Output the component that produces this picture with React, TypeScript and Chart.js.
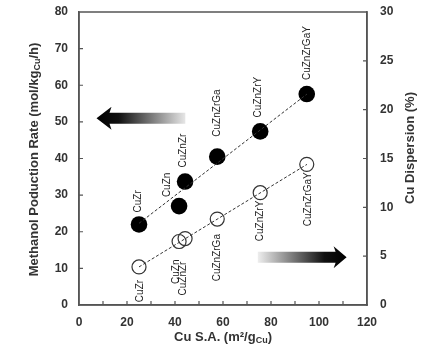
import React, { useEffect, useRef } from "react";
import { Chart, registerables } from "chart.js";

Chart.register(...registerables);

const catalysts = ["CuZr", "CuZn", "CuZnZr", "CuZnZrGa", "CuZnZrY", "CuZnZrGaY"];
const surfaceArea = [25, 41.7, 44.2, 57.6, 75.5, 94.9];
const methanolRate = [22, 27, 33.7, 40.5, 47.4, 57.6];
const dispersion = [3.9, 6.5, 6.8, 8.8, 11.5, 14.4];
const trendX = [25, 95];
const rateTrend = [22.3, 57.6];
const dispersionTrend = [3.9, 14.4];

// label placement (pixels): [dx, gap from point centre]
const filledLabelOffsets = [[-1, 12], [-12, 9], [-2, 14], [0, 20], [-2, 14], [0, 14]];
const openLabelOffsets = [[1, 13], [-2.5, 18], [-2, 23], [0, 15], [0, 8], [1, 8]];

const FONT = 'Arial, "Liberation Sans", sans-serif';
const TEXT = "#333";

const decorPlugin = {
  id: "decor",
  afterDatasetsDraw(chart: any) {
    const { ctx, chartArea: a, scales } = chart;
    const x = scales.x, y = scales.y, y1 = scales.y1;
    ctx.save();
    // frame
    ctx.strokeStyle = "#555";
    ctx.lineWidth = 1.5;
    ctx.strokeRect(a.left, a.top, a.right - a.left, a.bottom - a.top);
    // inside ticks
    ctx.lineWidth = 1.2;
    ctx.beginPath();
    for (let v = 10; v < 120; v += 10) {
      const px = x.getPixelForValue(v);
      ctx.moveTo(px, a.bottom);
      ctx.lineTo(px, a.bottom - 4);
    }
    for (let v = 10; v < 80; v += 10) {
      const py = y.getPixelForValue(v);
      ctx.moveTo(a.left, py);
      ctx.lineTo(a.left + 4, py);
    }
    for (let v = 5; v < 30; v += 5) {
      const py = y1.getPixelForValue(v);
      ctx.moveTo(a.right, py);
      ctx.lineTo(a.right - 4, py);
    }
    ctx.stroke();

    // point labels
    ctx.fillStyle = "#222";
    ctx.font = `10px ${FONT}`;
    ctx.textBaseline = "middle";
    catalysts.forEach((name, i) => {
      const px = x.getPixelForValue(surfaceArea[i]);
      const pyF = y.getPixelForValue(methanolRate[i]);
      const [dxF, gF] = filledLabelOffsets[i];
      ctx.save();
      ctx.translate(px + dxF, pyF - gF);
      ctx.rotate(-Math.PI / 2);
      ctx.textAlign = "left";
      ctx.fillText(name, 0, 0);
      ctx.restore();

      const pyO = y1.getPixelForValue(dispersion[i]);
      const [dxO, gO] = openLabelOffsets[i];
      ctx.save();
      ctx.translate(px + dxO, pyO + gO);
      ctx.rotate(-Math.PI / 2);
      ctx.textAlign = "right";
      ctx.fillText(name, 0, 0);
      ctx.restore();
    });

    // arrows
    const drawArrow = (x0: number, x1: number, yc: number, dir: number) => {
      const headLen = dir < 0 ? 15 : 13;
      const shaftH = 5.5;
      const headH = dir < 0 ? 11.5 : 11;
      const g = ctx.createLinearGradient(x0, 0, x1, 0);
      if (dir < 0) {
        g.addColorStop(0, "#000");
        g.addColorStop(0.25, "#111");
        g.addColorStop(1, "#e6e6e6");
      } else {
        g.addColorStop(0, "#eeeeee");
        g.addColorStop(0.75, "#111");
        g.addColorStop(1, "#000");
      }
      ctx.fillStyle = g;
      ctx.beginPath();
      if (dir < 0) {
        ctx.moveTo(x0, yc);
        ctx.lineTo(x0 + headLen, yc - headH);
        ctx.lineTo(x0 + headLen - 2, yc - shaftH);
        ctx.lineTo(x1, yc - shaftH);
        ctx.lineTo(x1, yc + shaftH);
        ctx.lineTo(x0 + headLen - 2, yc + shaftH);
        ctx.lineTo(x0 + headLen, yc + headH);
      } else {
        ctx.moveTo(x1, yc);
        ctx.lineTo(x1 - headLen, yc - headH);
        ctx.lineTo(x1 - headLen + 2, yc - shaftH);
        ctx.lineTo(x0, yc - shaftH);
        ctx.lineTo(x0, yc + shaftH);
        ctx.lineTo(x1 - headLen + 2, yc + shaftH);
        ctx.lineTo(x1 - headLen, yc + headH);
      }
      ctx.closePath();
      ctx.fill();
    };
    drawArrow(x.getPixelForValue(7.3), x.getPixelForValue(44.3), y.getPixelForValue(51), -1);
    drawArrow(x.getPixelForValue(74.5), x.getPixelForValue(111.5), y1.getPixelForValue(4.9), 1);

    // axis titles
    ctx.fillStyle = TEXT;
    ctx.textBaseline = "middle";
    const drawTitle = (parts: [string, boolean][], cx: number, cy: number, rot: number) => {
      const big = `bold 13px ${FONT}`;
      const small = `bold 9px ${FONT}`;
      let total = 0;
      parts.forEach(([t, sub]) => {
        ctx.font = sub ? small : big;
        total += ctx.measureText(t).width;
      });
      ctx.save();
      ctx.translate(cx, cy);
      ctx.rotate(rot);
      let pos = -total / 2;
      ctx.textAlign = "left";
      parts.forEach(([t, sub]) => {
        ctx.font = sub ? small : big;
        ctx.fillText(t, pos, sub ? 4 : 0);
        pos += ctx.measureText(t).width;
      });
      ctx.restore();
    };
    drawTitle([["Methanol Poduction Rate (mol/kg", false], ["Cu", true], ["/h)", false]], a.left - 45, 159.5, -Math.PI / 2);
    drawTitle([["Cu Dispersion (%)", false]], a.right + 43, 148, -Math.PI / 2);
    drawTitle([["Cu S.A. (m\u00B2/g", false], ["Cu", true], [")", false]], (a.left + a.right) / 2, 337, 0);
    ctx.restore();
  },
};

const fitVertical = (w: number) => (s: any) => {
  s.width = w;
  s.paddingTop = 0;
  s.paddingBottom = 0;
};

export default function App() {
  const ref = useRef<HTMLCanvasElement>(null);
  useEffect(() => {
    document.body.style.margin = "0";
    const chart = new Chart(ref.current as HTMLCanvasElement, {
      type: "scatter",
      data: {
        datasets: [
          {
            label: "rate trend",
            data: trendX.map((v, i) => ({ x: v, y: rateTrend[i] })),
            yAxisID: "y",
            showLine: true,
            borderColor: "#333",
            borderWidth: 1,
            borderDash: [3, 2],
            pointRadius: 0,
          },
          {
            label: "dispersion trend",
            data: trendX.map((v, i) => ({ x: v, y: dispersionTrend[i] })),
            yAxisID: "y1",
            showLine: true,
            borderColor: "#333",
            borderWidth: 1,
            borderDash: [3, 2],
            pointRadius: 0,
          },
          {
            label: "Methanol production rate",
            data: surfaceArea.map((v, i) => ({ x: v, y: methanolRate[i] })),
            yAxisID: "y",
            pointRadius: 8.3,
            backgroundColor: "#000",
            borderColor: "#000",
            borderWidth: 0,
          },
          {
            label: "Cu dispersion",
            data: surfaceArea.map((v, i) => ({ x: v, y: dispersion[i] })),
            yAxisID: "y1",
            pointRadius: 7,
            backgroundColor: "rgba(255,255,255,0)",
            borderColor: "#333",
            borderWidth: 1.2,
          },
        ],
      },
      options: {
        animation: false,
        responsive: true,
        maintainAspectRatio: false,
        layout: { padding: { top: 12, left: 0, right: 0, bottom: 0 } },
        plugins: { legend: { display: false }, tooltip: { enabled: false } },
        scales: {
          x: {
            type: "linear",
            min: 0,
            max: 120,
            ticks: { stepSize: 20, padding: 10, color: TEXT, font: { family: FONT, size: 12, weight: "bold" } },
            grid: { display: false, drawTicks: false },
            border: { display: true, color: "#555", width: 1.5 },
            afterFit: (s: any) => { s.height = 46; s.paddingLeft = 0; s.paddingRight = 0; },
          },
          y: {
            type: "linear",
            position: "left",
            min: 0,
            max: 80,
            ticks: { stepSize: 10, padding: 11, color: TEXT, font: { family: FONT, size: 12, weight: "bold" } },
            grid: { display: false, drawTicks: false },
            border: { display: true, color: "#555", width: 1.5 },
            afterFit: fitVertical(79),
          },
          y1: {
            type: "linear",
            position: "right",
            min: 0,
            max: 30,
            ticks: { stepSize: 5, padding: 13, color: TEXT, font: { family: FONT, size: 12, weight: "bold" } },
            grid: { display: false, drawTicks: false },
            border: { display: true, color: "#555", width: 1.5 },
            afterFit: fitVertical(66),
          },
        },
      },
      plugins: [decorPlugin],
    } as any);
    return () => chart.destroy();
  }, []);
  return (
    <div style={{ position: "relative", width: 433, height: 351 }}>
      <canvas ref={ref} />
    </div>
  );
}
